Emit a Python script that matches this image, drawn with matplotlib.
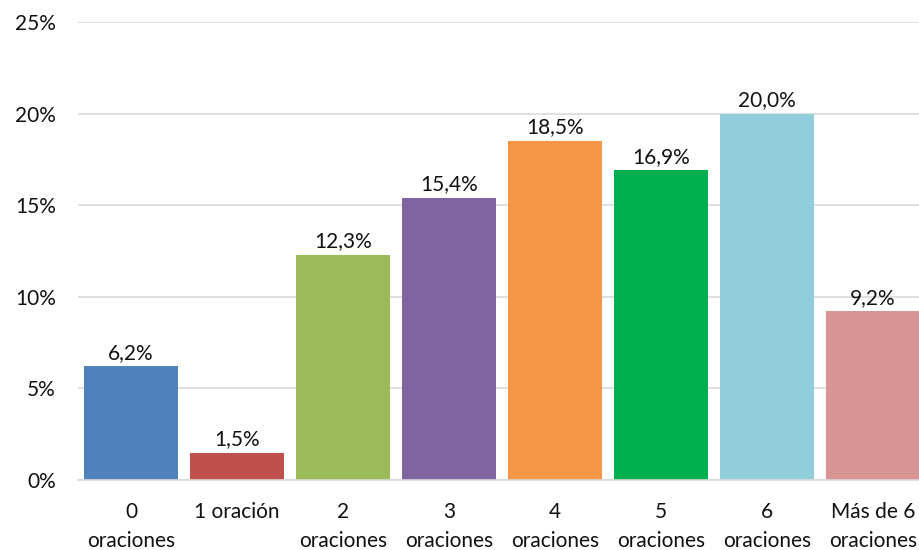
import matplotlib.pyplot as plt
from matplotlib.ticker import FuncFormatter

categories = [
    "0\noraciones",
    "1 oración",
    "2\noraciones",
    "3\noraciones",
    "4\noraciones",
    "5\noraciones",
    "6\noraciones",
    "Más de 6\noraciones",
]
values = [6.2, 1.5, 12.3, 15.4, 18.5, 16.9, 20.0, 9.2]
colors = [
    "#4F81BD",
    "#C0504D",
    "#9BBB59",
    "#8064A2",
    "#F79646",
    "#00B050",
    "#92CDDC",
    "#D99594",
]

plt.rcParams["font.family"] = ["Lato", "DejaVu Sans"]

fig = plt.figure(figsize=(9.19, 5.5), dpi=100)
# plot area runs a little past the right edge of the figure
ax = fig.add_axes([78 / 919, 70 / 550, 848 / 919, 458 / 550])

positions = range(len(categories))
bars = ax.bar(positions, values, width=0.885, color=colors, zorder=2)

for bar, value in zip(bars, values):
    ax.text(
        bar.get_x() + bar.get_width() / 2,
        value + 0.2,
        f"{value:.1f}%".replace(".", ","),
        ha="center",
        va="bottom",
        fontsize=15,
        color="#111111",
    )

ax.set_xlim(-0.5, len(categories) - 0.5)
ax.set_ylim(0, 25)
ax.set_yticks([0, 5, 10, 15, 20, 25])
ax.yaxis.set_major_formatter(FuncFormatter(lambda v, _: f"{v:.0f}%"))
ax.set_xticks(list(positions))
ax.set_xticklabels(categories, linespacing=1.55)

ax.grid(axis="y", color="#D9D9D9", linewidth=1.2, zorder=0)
ax.tick_params(axis="both", length=0, labelsize=15, colors="#111111")
ax.tick_params(axis="x", pad=16)
ax.tick_params(axis="y", pad=16)
for side in ["top", "right", "left"]:
    ax.spines[side].set_visible(False)
ax.spines["bottom"].set_color("#D9D9D9")
ax.spines["bottom"].set_linewidth(1.2)

fig.savefig("out.png", dpi=100)
